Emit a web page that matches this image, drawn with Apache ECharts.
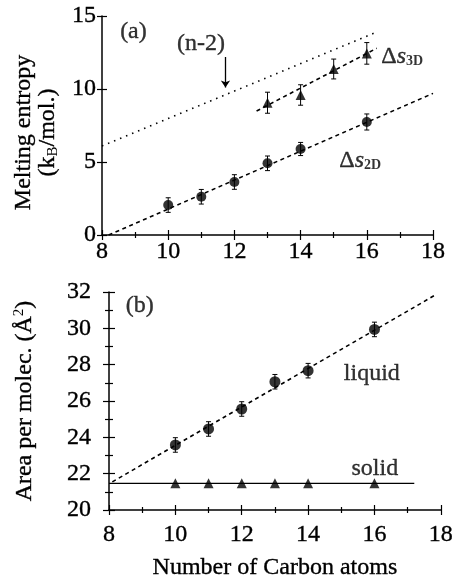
<!DOCTYPE html>
<html>
<head>
<meta charset="utf-8">
<script src="https://cdn.jsdelivr.net/npm/echarts@6/dist/echarts.min.js"></script>
<style>
  html, body { margin: 0; padding: 0; background: #fff; }
  #chart { width: 456px; height: 584px; }
</style>
</head>
<body>
<div id="chart"></div>
<script>
// panel (a): melting entropy
const carbon2D = [10, 11, 12, 13, 14, 16];
const ds2D = [2.05, 2.62, 3.63, 4.91, 5.89, 7.74];
const ds2DErr = [0.5, 0.5, 0.5, 0.5, 0.45, 0.55];
const carbon3D = [13, 14, 15, 16];
const ds3D = [9.06, 9.59, 11.37, 12.44];
const ds3DErr = [0.72, 0.7, 0.68, 0.74];
const fit2DX = [8.2, 18];
const fit2DY = [0, 9.7];
const fit3DX = [12.67, 16.3];
const fit3DY = [8.49, 12.79];
const nMinus2X = [8, 16.3];
const nMinus2Y = [6.1, 13.9];
const arrowFrom = [11.73, 12.2];
const arrowTo = [11.73, 10.1];

// panel (b): area per molecule
const carbonB = [10, 11, 12, 13, 14, 16];
const liquidArea = [23.58, 24.46, 25.56, 27.06, 27.67, 29.94];
const liquidErr = [0.4, 0.4, 0.4, 0.4, 0.4, 0.4];
const solidArea = [21.47, 21.47, 21.47, 21.47, 21.47, 21.47];
const liquidFitX = [8.1, 17.8];
const liquidFitY = [21.55, 31.8];
const solidFitX = [8, 17.2];
const solidFitY = [21.47, 21.47];

const FONT = "'Liberation Serif', 'Times New Roman', serif";
// slight stroke so the serif text reads as heavy as the scanned figure
const INK = { color: "#000", textBorderColor: "#000", textBorderWidth: 0.35 };

const chart = echarts.init(document.getElementById("chart"));

const zip = (xs, ys) => xs.map((x, i) => [x, ys[i]]);
const errData = (xs, ys, es) => xs.map((x, i) => [x, ys[i] - es[i], ys[i] + es[i]]);

const renderErr = (params, api) => {
  const x = api.value(0);
  const top = api.coord([x, api.value(2)]);
  const bot = api.coord([x, api.value(1)]);
  const w = 2.5;
  const st = { stroke: "#000", lineWidth: 1 };
  return {
    type: "group",
    children: [
      { type: "line", shape: { x1: top[0], y1: top[1], x2: bot[0], y2: bot[1] }, style: st },
      { type: "line", shape: { x1: top[0] - w, y1: top[1], x2: top[0] + w, y2: top[1] }, style: st },
      { type: "line", shape: { x1: bot[0] - w, y1: bot[1], x2: bot[0] + w, y2: bot[1] }, style: st },
    ],
  };
};

const rich = {
  it: Object.assign({ fontFamily: FONT, fontSize: 24, fontStyle: "italic", lineHeight: 24 }, INK),
  m: Object.assign({ fontFamily: FONT, fontSize: 24, lineHeight: 24 }, INK),
  sub: { fontFamily: FONT, fontSize: 14, fontWeight: "bold", color: "#000", lineHeight: 14, padding: [10, 0, 0, 0] },
  subn: { fontFamily: FONT, fontSize: 15, color: "#000", lineHeight: 15, padding: [12, 0, 0, 0] },
  sup: { fontFamily: FONT, fontSize: 15, color: "#000", lineHeight: 15, padding: [0, 0, 12, 0] },
};

const tickStyle = { color: "#000", width: 1.2 };

const baseX = (grid, margin, extra) => Object.assign({
  type: "value",
  gridIndex: grid,
  min: 8,
  max: 18,
  interval: 2,
  splitLine: { show: false },
  axisLine: { show: true, onZero: false, lineStyle: { color: "#000", width: 1.5 } },
  axisTick: { show: true, length: 5, lineStyle: tickStyle },
  minorTick: { show: true, splitNumber: 2, length: 3, lineStyle: tickStyle },
  axisLabel: Object.assign({ fontFamily: FONT, fontSize: 24, margin: margin }, INK),
}, extra);

const innerX = (grid) => ({
  type: "value",
  gridIndex: grid,
  min: 8,
  max: 18,
  interval: 2,
  position: "bottom",
  splitLine: { show: false },
  axisLine: { show: false, onZero: false },
  axisTick: { show: true, inside: true, length: 5, lineStyle: tickStyle },
  minorTick: { show: true, splitNumber: 2, length: 3, lineStyle: tickStyle },
  axisLabel: { show: false },
});

const option = {
  backgroundColor: "#fff",
  animation: false,
  grid: [
    { left: 102, top: 16, width: 331, height: 219 },
    { left: 109, top: 292, width: 332, height: 218 },
  ],
  xAxis: [
    baseX(0, 5, {}),
    baseX(1, 13, {
      name: "Number of Carbon atoms",
      nameLocation: "middle",
      nameGap: 46,
      nameTextStyle: Object.assign({ fontFamily: FONT, fontSize: 24 }, INK),
    }),
    innerX(0),
    innerX(1),
  ],
  yAxis: [
    {
      type: "value",
      gridIndex: 0,
      min: 0,
      max: 15,
      interval: 5,
      splitLine: { show: false },
      axisLine: { show: true, onZero: false, lineStyle: { color: "#000", width: 1.5 } },
      axisTick: { show: true, length: 5, lineStyle: tickStyle },
      axisLabel: Object.assign({ fontFamily: FONT, fontSize: 24, margin: 6 }, INK),
      name: "{m|Melting entropy}\n{m|(k}{subn|B}{m|/mol.)}",
      nameLocation: "middle",
      nameRotate: 90,
      nameGap: 38,
      nameTextStyle: { rich: rich, lineHeight: 26, padding: [0, 14, 0, 0] },
    },
    {
      type: "value",
      gridIndex: 1,
      min: 20,
      max: 32,
      interval: 2,
      splitLine: { show: false },
      axisLine: { show: true, onZero: false, lineStyle: { color: "#000", width: 1.5 } },
      axisTick: { show: true, length: 6, lineStyle: tickStyle },
      minorTick: { show: true, splitNumber: 2, length: 4, lineStyle: tickStyle },
      axisLabel: Object.assign({ fontFamily: FONT, fontSize: 24, margin: 18 }, INK),
      name: "{m|Area per molec. (Å}{sup|2}{m|)}",
      nameLocation: "middle",
      nameRotate: 90,
      nameGap: 72,
      nameTextStyle: { rich: rich },
    },
    {
      type: "value",
      gridIndex: 0,
      min: 0,
      max: 15,
      interval: 5,
      position: "left",
      splitLine: { show: false },
      axisLine: { show: false, onZero: false },
      axisTick: { show: true, inside: true, length: 5, lineStyle: tickStyle },
      axisLabel: { show: false },
    },
    {
      type: "value",
      gridIndex: 1,
      min: 20,
      max: 32,
      interval: 2,
      position: "left",
      splitLine: { show: false },
      axisLine: { show: false, onZero: false },
      axisTick: { show: true, inside: true, length: 6, lineStyle: tickStyle },
      minorTick: { show: true, splitNumber: 2, length: 4, lineStyle: tickStyle },
      axisLabel: { show: false },
    },
  ],
  series: [
    // panel (a)
    {
      type: "line", xAxisIndex: 0, yAxisIndex: 0, symbol: "none",
      data: zip(nMinus2X, nMinus2Y),
      lineStyle: { color: "#000", width: 1.6, type: [1.5, 5] },
    },
    {
      type: "line", xAxisIndex: 0, yAxisIndex: 0, symbol: "none",
      data: zip(fit2DX, fit2DY),
      lineStyle: { color: "#000", width: 1.6, type: [4, 3.5] },
    },
    {
      type: "line", xAxisIndex: 0, yAxisIndex: 0, symbol: "none",
      data: zip(fit3DX, fit3DY),
      lineStyle: { color: "#000", width: 1.6, type: [4, 3.5] },
    },
    {
      type: "custom", xAxisIndex: 0, yAxisIndex: 0,
      renderItem: renderErr,
      encode: { x: 0, y: [1, 2] },
      data: errData(carbon2D, ds2D, ds2DErr).concat(errData(carbon3D, ds3D, ds3DErr)),
    },
    {
      type: "scatter", xAxisIndex: 0, yAxisIndex: 0, symbol: "circle", symbolSize: 10,
      itemStyle: { color: "#000" },
      data: zip(carbon2D, ds2D),
    },
    {
      type: "scatter", xAxisIndex: 0, yAxisIndex: 0, symbol: "triangle", symbolSize: 10,
      itemStyle: { color: "#000" },
      data: zip(carbon3D, ds3D),
    },
    {
      type: "lines", coordinateSystem: "cartesian2d", xAxisIndex: 0, yAxisIndex: 0,
      symbol: ["none", "arrow"], symbolSize: 7,
      lineStyle: { color: "#000", width: 1.3, opacity: 1 },
      itemStyle: { color: "#000" },
      data: [{ coords: [arrowFrom, arrowTo] }],
    },
    {
      type: "scatter", xAxisIndex: 0, yAxisIndex: 0, symbolSize: 1,
      itemStyle: { color: "transparent" },
      label: { show: true, position: "inside", rich: rich },
      data: [
        { value: [8.95, 13.92], label: { formatter: "{m|(a)}" } },
        { value: [10.99, 13.08], label: { formatter: "{m|(n-2)}" } },
        { value: [17.07, 12.2], label: { formatter: "{m|Δ}{it|s}{sub|3D}" } },
        { value: [15.8, 5.1], label: { formatter: "{m|Δ}{it|s}{sub|2D}" } },
      ],
    },
    // panel (b)
    {
      type: "line", xAxisIndex: 1, yAxisIndex: 1, symbol: "none",
      data: zip(liquidFitX, liquidFitY),
      lineStyle: { color: "#000", width: 1.6, type: [4, 3.5] },
    },
    {
      type: "line", xAxisIndex: 1, yAxisIndex: 1, symbol: "none",
      data: zip(solidFitX, solidFitY),
      lineStyle: { color: "#000", width: 1.2 },
    },
    {
      type: "custom", xAxisIndex: 1, yAxisIndex: 1,
      renderItem: renderErr,
      encode: { x: 0, y: [1, 2] },
      data: errData(carbonB, liquidArea, liquidErr),
    },
    {
      type: "scatter", xAxisIndex: 1, yAxisIndex: 1, symbol: "circle", symbolSize: 11,
      itemStyle: { color: "#000" },
      data: zip(carbonB, liquidArea),
    },
    {
      type: "scatter", xAxisIndex: 1, yAxisIndex: 1, symbol: "triangle", symbolSize: 10,
      itemStyle: { color: "#000" },
      data: zip(carbonB, solidArea),
    },
    {
      type: "scatter", xAxisIndex: 1, yAxisIndex: 1, symbolSize: 1,
      itemStyle: { color: "transparent" },
      label: { show: true, position: "inside", rich: rich },
      data: [
        { value: [8.93, 31.23], label: { formatter: "{m|(b)}" } },
        { value: [15.92, 27.5], label: { formatter: "{m|liquid}" } },
        { value: [16.01, 22.3], label: { formatter: "{m|solid}" } },
      ],
    },
  ],
};

chart.setOption(option);
</script>
</body>
</html>
